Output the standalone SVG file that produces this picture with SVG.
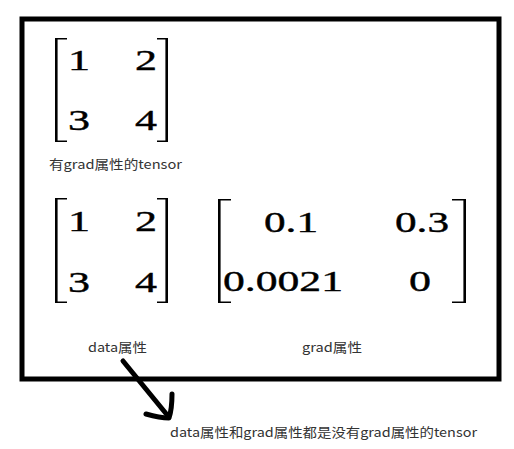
<svg xmlns="http://www.w3.org/2000/svg" width="514" height="449" viewBox="0 0 514 449">
<style>
.num{font-family:'Liberation Serif','Times New Roman',serif;font-size:30px;fill:#000;stroke:#000;stroke-width:0.4}
.lbl{font-family:'Noto Sans CJK SC','Noto Sans',sans-serif;font-size:13px;fill:#333}
.br{fill:#000}
.frame{fill:none;stroke:#000;stroke-width:5}
.arrow{fill:none;stroke:#000;stroke-width:5;stroke-linecap:round;stroke-linejoin:round}
</style>
<rect width="514" height="449" fill="#fff"/>
<rect id="frame" class="frame" x="22" y="19" width="477" height="360"/>
<g id="matrix-top">
<path class="br" d="M55,38 h12 v1.6 h-9.4 v100.8 h9.4 v1.6 h-12 z"/>
<path class="br" d="M168,38 h-11 v1.6 h8.4 v100.8 h-8.4 v1.6 h11 z"/>
<text class="num" x="68" y="70" textLength="22" lengthAdjust="spacingAndGlyphs">1</text>
<text class="num" x="135" y="70" textLength="22" lengthAdjust="spacingAndGlyphs">2</text>
<text class="num" x="68" y="130" textLength="22" lengthAdjust="spacingAndGlyphs">3</text>
<text class="num" x="135" y="130" textLength="22" lengthAdjust="spacingAndGlyphs">4</text>
</g>
<g id="label-top">
<text class="lbl" x="49" y="169" textLength="133" lengthAdjust="spacingAndGlyphs">有grad属性的tensor</text>
</g>
<g id="matrix-data">
<path class="br" d="M55,198 h12 v1.6 h-9.4 v101.8 h9.4 v1.6 h-12 z"/>
<path class="br" d="M168,198 h-11 v1.6 h8.4 v101.8 h-8.4 v1.6 h11 z"/>
<text class="num" x="68" y="231" textLength="22" lengthAdjust="spacingAndGlyphs">1</text>
<text class="num" x="135" y="231" textLength="22" lengthAdjust="spacingAndGlyphs">2</text>
<text class="num" x="68" y="292" textLength="22" lengthAdjust="spacingAndGlyphs">3</text>
<text class="num" x="135" y="292" textLength="22" lengthAdjust="spacingAndGlyphs">4</text>
</g>
<g id="matrix-grad">
<path class="br" d="M218,199 h13 v1.6 h-10.4 v100.8 h10.4 v1.6 h-13 z"/>
<path class="br" d="M466,199 h-14 v1.6 h11.4 v100.8 h-11.4 v1.6 h14 z"/>
<text class="num" x="264" y="232" textLength="54" lengthAdjust="spacingAndGlyphs">0.1</text>
<text class="num" x="395" y="232" textLength="54" lengthAdjust="spacingAndGlyphs">0.3</text>
<text class="num" x="223" y="291" textLength="120" lengthAdjust="spacingAndGlyphs">0.0021</text>
<text class="num" x="409" y="291" textLength="22" lengthAdjust="spacingAndGlyphs">0</text>
</g>
<g id="label-data">
<text class="lbl" x="88" y="352" textLength="59" lengthAdjust="spacingAndGlyphs">data属性</text>
</g>
<g id="label-grad">
<text class="lbl" x="302" y="352" textLength="60" lengthAdjust="spacingAndGlyphs">grad属性</text>
</g>
<g id="connectors">
<path class="arrow" d="M123,361 L168,416"/>
<path class="arrow" d="M172,394 C172,405 171,412 169,418 C160,418 153,416 146,414"/>
</g>
<g id="label-bottom">
<text class="lbl" x="170" y="437" textLength="307" lengthAdjust="spacingAndGlyphs">data属性和grad属性都是没有grad属性的tensor</text>
</g>
</svg>
